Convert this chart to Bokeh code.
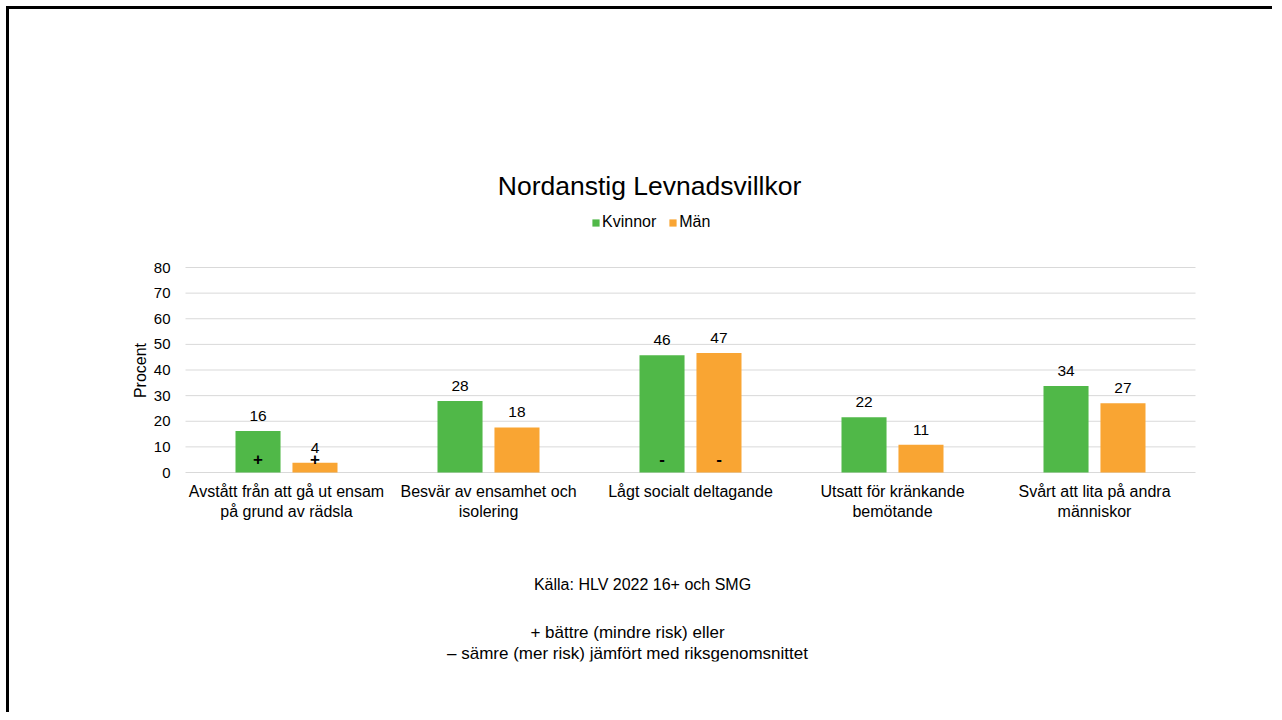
import math
from bokeh.plotting import figure
from bokeh.models import (ColumnDataSource, Range1d, LabelSet, Label,
                          Legend, LegendItem, FixedTicker)
from bokeh.transform import dodge
from bokeh.core.properties import value
from bokeh.embed import file_html
from bokeh.resources import INLINE

# ---- data ----
categories = [
    "Avstått från att gå ut ensam\npå grund av rädsla",
    "Besvär av ensamhet och\nisolering",
    "Lågt socialt deltagande",
    "Utsatt för kränkande\nbemötande",
    "Svårt att lita på andra\nmänniskor",
]
kvinnor = [16.2, 27.9, 45.8, 21.6, 33.8]
man = [3.8, 17.6, 46.6, 10.8, 27.0]
kvinnor_signs = ["+", "", "-", "", ""]
man_signs = ["+", "", "-", "", ""]
y_ticks = [0, 10, 20, 30, 40, 50, 60, 70, 80]

title_text = "Nordanstig Levnadsvillkor"
y_label = "Procent"
source_text = "Källa: HLV 2022 16+ och SMG"
note_line1 = "+ bättre (mindre risk) eller"
note_line2 = "– sämre (mer risk) jämfört med riksgenomsnittet"

GREEN = "#50b848"
ORANGE = "#f9a533"
GRID = "#d9d9d9"
FONT = "Liberation Sans"
TXT = "#000000"

# ---- layout constants (page pixels) ----
W, H = 1266, 706
CANVAS_X0, CANVAS_Y0 = 9, 9
MB_L, MB_R, MB_T, MB_B = 44, 5, 5, 54
FL = CANVAS_X0 + MB_L          # frame left (page)
FR = CANVAS_X0 + W - MB_R      # frame right
FT = CANVAS_Y0 + MB_T          # frame top
FB = CANVAS_Y0 + H - MB_B      # frame bottom
X0_PAGE, X_STEP = 286.0, 202.0  # first category centre, category pitch
Y0_PAGE, Y_PX = 472.0, 205.0 / 80.0  # y=0 position, px per unit

def px2x(px):
    return (px - X0_PAGE) / X_STEP

def py2y(py):
    return (Y0_PAGE - py) / Y_PX

n = len(categories)
xi = list(range(n))
src = ColumnDataSource(dict(
    xi=xi, k=kvinnor, m=man,
    kl=[str(int(round(v))) for v in kvinnor],
    ml=[str(int(round(v))) for v in man],
    ks=kvinnor_signs, ms=man_signs,
    sy=[5.3] * n,
))

p = figure(x_range=Range1d(px2x(FL), px2x(FR)), y_range=Range1d(py2y(FB), py2y(FT)),
           width=W, height=H, title=None,
           min_border_left=MB_L, min_border_right=MB_R,
           min_border_top=MB_T, min_border_bottom=MB_B,
           output_backend="svg", toolbar_location=None)
p.outline_line_color = None
p.background_fill_color = "white"
p.border_fill_color = "white"
p.styles = {"border-top": "3px solid #000", "border-left": "3px solid #000",
            "margin-top": "6px", "margin-left": "6px"}

# grid lines (limited to the category area)
p.xgrid.visible = False
p.ygrid.visible = False
p.segment(x0=[-0.5] * len(y_ticks), x1=[n - 0.5] * len(y_ticks),
          y0=y_ticks, y1=y_ticks, line_color=GRID, line_width=1)

OFF = 0.141
BW = 0.223
rk = p.vbar(x=dodge("xi", -OFF), top="k", width=BW,
            source=src, fill_color=GREEN, line_color=None)
rm = p.vbar(x=dodge("xi", OFF), top="m", width=BW,
            source=src, fill_color=ORANGE, line_color=None)

for col, ycol, off in (("kl", "k", -OFF), ("ml", "m", OFF)):
    p.add_layout(LabelSet(x=dodge("xi", off), y=ycol, text=col,
                          source=src, y_offset=10, text_align="center",
                          text_baseline="bottom", text_font_size="15.5px",
                          text_font=value(FONT), text_color=TXT))
for col, off in (("ks", -OFF), ("ms", OFF)):
    p.add_layout(LabelSet(x=dodge("xi", off), y="sy", text=col,
                          source=src, text_align="center", text_baseline="middle",
                          text_font_size="17px", text_font_style="bold",
                          text_font=value(FONT), text_color=TXT))

# axes
p.yaxis.fixed_location = -0.5
p.yaxis.ticker = FixedTicker(ticks=y_ticks)
p.yaxis.axis_line_color = None
p.yaxis.major_tick_line_color = None
p.yaxis.minor_tick_line_color = None
p.yaxis.major_tick_out = 0
p.yaxis.major_tick_in = 0
p.yaxis.major_label_standoff = 15
p.yaxis.major_label_text_font_size = "15px"
p.yaxis.major_label_text_font = FONT
p.yaxis.major_label_text_color = TXT

p.xaxis.fixed_location = 0
p.xaxis.ticker = FixedTicker(ticks=xi)
p.xaxis.major_label_overrides = {i: c for i, c in zip(xi, categories)}
p.xaxis.axis_line_color = None
p.xaxis.major_tick_line_color = None
p.xaxis.minor_tick_line_color = None
p.xaxis.major_tick_out = 0
p.xaxis.major_tick_in = 0
p.xaxis.major_label_standoff = 10
p.xaxis.major_label_text_font_size = "16px"
p.xaxis.major_label_text_font = FONT
p.xaxis.major_label_text_color = TXT

legend = Legend(items=[LegendItem(label="Kvinnor", renderers=[rk]),
                       LegendItem(label="Män", renderers=[rm])],
                orientation="horizontal", location=(591 - FL, FB - 231),
                glyph_width=9, glyph_height=9, label_standoff=2, spacing=12,
                padding=0, margin=0, border_line_color=None,
                background_fill_alpha=0, label_text_font=FONT,
                label_text_font_size="16px", label_text_color=TXT)
p.add_layout(legend, "center")

def lab(px, py, text, size, angle=0.0):
    p.add_layout(Label(x=px2x(px), y=py2y(py), text=text, angle=angle,
                       text_align="center", text_baseline="middle",
                       text_font=FONT, text_font_size=size, text_color=TXT))

lab(649, 185, title_text, "26.5px")
lab(140, 370, y_label, "16px", math.pi / 2)
lab(642, 584, source_text, "16px")
lab(627, 632, note_line1, "17px")
lab(627, 653, note_line2, "17px")

open("out.html", "w").write(file_html(p, INLINE))
